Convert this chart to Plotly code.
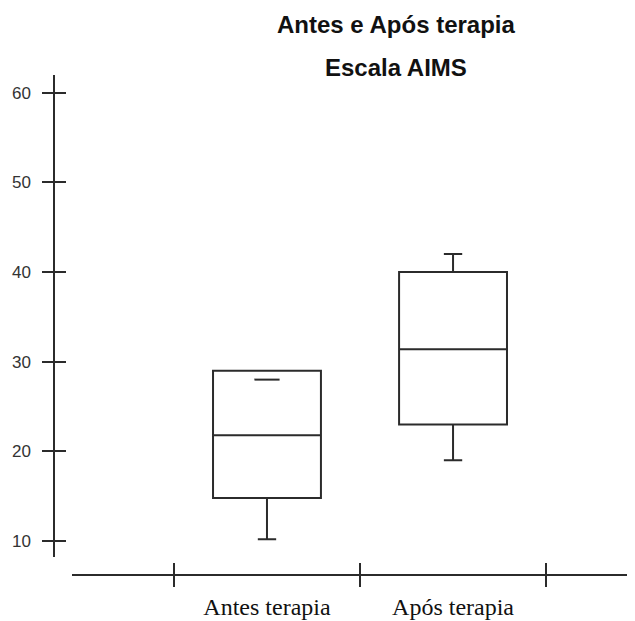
import plotly.graph_objects as go

categories = ["Antes terapia", "Após terapia"]
q1_vals = [14.8, 23.0]
median_vals = [21.8, 31.4]
q3_vals = [29.0, 40.0]
lower_vals = [10.2, 19.0]
upper_vals = [28.0, 42.0]
y_tick_vals = [10, 20, 30, 40, 50, 60]
title_lines = ["Antes e Após terapia", "Escala AIMS"]

# the page body has an 8px margin, so the figure is sized/offset to compensate
OFF = 8
W, H = 635 - OFF, 621 - OFF
LINE = "#2b2b2b"

def fx(px):
    return (px - OFF) / W

def fy(py):
    return 1 - (py - OFF) / H

fig = go.Figure()
fig.add_trace(go.Box(
    x=categories, q1=q1_vals, median=median_vals, q3=q3_vals,
    lowerfence=lower_vals, upperfence=upper_vals,
    boxpoints=False, width=0.58, whiskerwidth=0.17,
    line=dict(color=LINE, width=2), fillcolor="rgba(0,0,0,0)",
    showlegend=False, hoverinfo="skip", xaxis="x", yaxis="y",
))
# upper whisker caps that fall inside the box (not drawn by the box trace)
inner_x = [c for c, u, q in zip(categories, upper_vals, q3_vals) if u < q]
inner_y = [u for u, q in zip(upper_vals, q3_vals) if u < q]
fig.add_trace(go.Scatter(
    x=inner_x, y=inner_y, mode="markers",
    marker=dict(symbol="line-ew", size=18, line=dict(color=LINE, width=2)),
    showlegend=False, hoverinfo="skip", xaxis="x", yaxis="y",
))
# invisible helper trace so the overlay axis knows the categories (for inner tick halves)
fig.add_trace(go.Scatter(
    x=categories, y=median_vals, mode="markers", marker=dict(opacity=0),
    showlegend=False, hoverinfo="skip", xaxis="x2", yaxis="y2",
))

x_dom = [fx(72), 1.0]
y_dom = [fy(557), fy(75)]
y_rng = [8.22, 61.97]
x_rng = [-1.048, 1.978]
y_pos = fx(54.3)
x_pos = fy(575)

tickfont_y = dict(family="Liberation Sans, Arial, sans-serif", size=17, color="#333")
tickfont_x = dict(family="Liberation Serif, Times New Roman, serif", size=24, color="#111")

fig.update_layout(
    template="none",
    width=W, height=H,
    margin=dict(l=0, r=0, t=0, b=0),
    paper_bgcolor="white", plot_bgcolor="white",
    showlegend=False,
    xaxis=dict(
        type="category", domain=x_dom, range=x_rng, anchor="free", position=x_pos,
        showline=True, linecolor=LINE, linewidth=2,
        ticks="outside", ticklen=11, tickwidth=2, tickcolor=LINE, tickson="boundaries",
        showgrid=False, zeroline=False, tickfont=tickfont_x, ticklabelstandoff=10,
        automargin=False, fixedrange=True,
    ),
    xaxis2=dict(
        type="category", overlaying="x", range=x_rng, anchor="free", position=x_pos,
        showline=False, ticks="inside", ticklen=12, tickwidth=2, tickcolor=LINE,
        tickson="boundaries", showticklabels=False, showgrid=False, zeroline=False,
        automargin=False, fixedrange=True,
    ),
    yaxis=dict(
        domain=y_dom, range=y_rng, anchor="free", position=y_pos,
        tickvals=y_tick_vals, showline=True, linecolor=LINE, linewidth=2,
        ticks="outside", ticklen=11, tickwidth=2, tickcolor=LINE,
        showgrid=False, zeroline=False, tickfont=tickfont_y, ticklabelstandoff=8,
        automargin=False, fixedrange=True,
    ),
    yaxis2=dict(
        overlaying="y", range=y_rng, anchor="free", position=y_pos,
        tickvals=y_tick_vals, showline=False,
        ticks="inside", ticklen=11, tickwidth=2, tickcolor=LINE,
        showticklabels=False, showgrid=False, zeroline=False,
        automargin=False, fixedrange=True,
    ),
)

title_font = dict(family="Liberation Sans, Arial, sans-serif", size=24, color="#111")
for text, py in zip(title_lines, [25, 67]):
    fig.add_annotation(
        text="<b>" + text + "</b>", xref="paper", yref="paper",
        x=fx(396), y=fy(py), xanchor="center", yanchor="middle",
        showarrow=False, font=title_font,
    )

fig.write_html("out.html")
